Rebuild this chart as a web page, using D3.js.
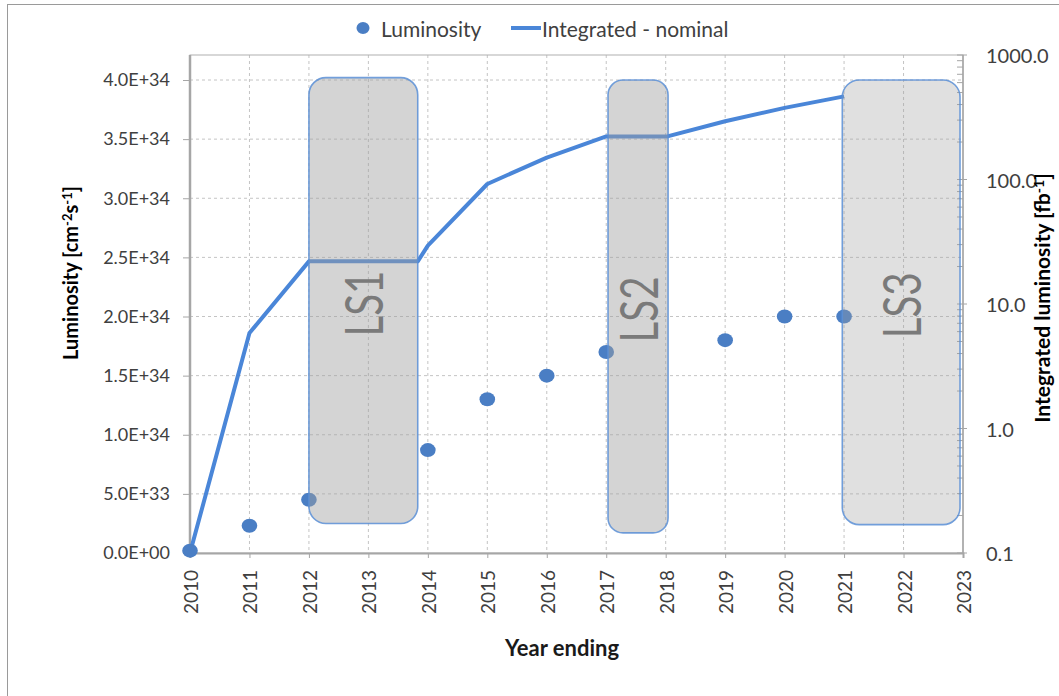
<!DOCTYPE html>
<html>
<head>
<meta charset="utf-8">
<script src="https://cdn.jsdelivr.net/npm/d3@7"></script>
<style>
  html, body { margin: 0; padding: 0; background: #fff; }
  svg { display: block; font-family: Lato, "Open Sans", sans-serif; }
</style>
</head>
<body>
<div id="chart"></div>
<script>
// ── Data ─────────────────────────────────────────────────────────
const lumiYears = [2010, 2011, 2012, 2014, 2015, 2016, 2017, 2019, 2020, 2021];
const lumiValues = [2e32, 2.3e33, 4.5e33, 8.7e33, 1.3e34, 1.5e34, 1.7e34, 1.8e34, 2.0e34, 2.0e34];

const intYears = [2010, 2011, 2012, 2013.83, 2014, 2015, 2016, 2017, 2018.03, 2019, 2020, 2021];
const intValues = [0.1, 5.85, 22, 22, 29.4, 92, 150, 222, 222, 294, 376, 465];

const shutdownNames = ['LS1', 'LS2', 'LS3'];
const shutdownStart = [2012, 2017.03, 2020.97];
const shutdownEnd = [2013.83, 2018.04, 2022.95];
const shutdownTop = [4.02e34, 4.0e34, 4.0e34];
const shutdownBottom = [0.25e34, 0.17e34, 0.24e34];
const shutdownOpacity = [0.45, 0.45, 0.33];

const yearTicks = d3.range(2010, 2024);
const lumiTicks = d3.range(0, 9).map(i => i * 0.5e34);
const intTicks = [0.1, 1, 10, 100, 1000];

// ── Layout ───────────────────────────────────────────────────────
const W = 1059, H = 696;
const blue = '#4a86d8';
const dotBlue = '#4a7ec4';
const tickColor = '#404040';

const svg = d3.select('#chart').append('svg')
  .attr('width', W)
  .attr('height', H);

// outer chart border
svg.append('rect')
  .attr('x', 7.5).attr('y', 4.5)
  .attr('width', W + 20).attr('height', H + 20)
  .attr('fill', 'none')
  .attr('stroke', '#9a9a9a');

const x = d3.scaleLinear().domain([2010, 2023]).range([190, 963]);
const yL = d3.scaleLinear().domain([0, 4e34]).range([553, 80]);
const yR = d3.scaleLog().domain([0.1, 1000]).range([553, 55]);

const plotTop = yR(1000), plotBottom = yR(0.1), plotLeft = x(2010), plotRight = x(2023);

// ── Grid ─────────────────────────────────────────────────────────
const grid = svg.append('g');
grid.selectAll('.hgrid')
  .data(lumiTicks.slice(1))
  .enter().append('line')
  .attr('x1', plotLeft).attr('x2', plotRight)
  .attr('y1', d => yL(d)).attr('y2', d => yL(d))
  .attr('stroke', '#c4c4c4')
  .attr('stroke-dasharray', '3,3');

grid.selectAll('.vgrid')
  .data(yearTicks.slice(1, -1))
  .enter().append('line')
  .attr('x1', d => x(d)).attr('x2', d => x(d))
  .attr('y1', plotTop).attr('y2', plotBottom)
  .attr('stroke', '#c4c4c4')
  .attr('stroke-dasharray', '3,3');

// frame
svg.append('rect')
  .attr('x', plotLeft).attr('y', plotTop)
  .attr('width', plotRight - plotLeft).attr('height', plotBottom - plotTop)
  .attr('fill', 'none')
  .attr('stroke', '#b0b0b0');

// ── Axes ─────────────────────────────────────────────────────────
function sciFmt(v) {
  if (v === 0) return '0.0E+00';
  const [m, e] = v.toExponential(1).split('e');
  const ev = Math.abs(+e);
  return m + 'E' + (+e < 0 ? '-' : '+') + String(ev).padStart(2, '0');
}

const leftAxis = svg.append('g')
  .attr('transform', `translate(${plotLeft},0)`)
  .call(d3.axisLeft(yL).tickValues(lumiTicks).tickFormat(sciFmt).tickSize(7).tickPadding(13));
leftAxis.select('.domain').attr('stroke', '#a6a6a6').attr('stroke-width', 2.5)
  .attr('d', `M0,${plotTop}V${plotBottom}`);
leftAxis.selectAll('.tick line').attr('stroke', '#a6a6a6');
leftAxis.selectAll('.tick text')
  .attr('fill', tickColor)
  .attr('font-size', 18)
  .attr('font-family', 'Lato, sans-serif');

const bottomAxis = svg.append('g')
  .attr('transform', `translate(0,${plotBottom})`)
  .call(d3.axisBottom(x).tickValues(yearTicks).tickFormat(d3.format('d')).tickSize(5));
bottomAxis.select('.domain').attr('stroke', '#a6a6a6').attr('stroke-width', 2);
bottomAxis.selectAll('.tick line').attr('stroke', '#a6a6a6');
bottomAxis.selectAll('.tick text')
  .attr('fill', tickColor)
  .attr('font-size', 19)
  .attr('font-family', 'Lato, sans-serif')
  .attr('transform', 'rotate(-90)')
  .attr('text-anchor', 'end')
  .attr('dominant-baseline', 'central')
  .attr('x', -17).attr('y', 0).attr('dy', null);

// right log axis with minor ticks pointing inward
const minorTicks = [];
[0.1, 1, 10, 100].forEach(dec => {
  for (let k = 2; k <= 9; k++) minorTicks.push(dec * k);
});
const rightAxis = svg.append('g').attr('transform', `translate(${plotRight},0)`);
rightAxis.append('line')
  .attr('y1', plotTop).attr('y2', plotBottom)
  .attr('stroke', '#a6a6a6').attr('stroke-width', 1.5);
rightAxis.selectAll('.minor')
  .data(minorTicks)
  .enter().append('line')
  .attr('x1', -6).attr('x2', 0)
  .attr('y1', d => yR(d)).attr('y2', d => yR(d))
  .attr('stroke', '#a6a6a6');
rightAxis.selectAll('.major')
  .data(intTicks)
  .enter().append('line')
  .attr('x1', -6).attr('x2', 4)
  .attr('y1', d => yR(d)).attr('y2', d => yR(d))
  .attr('stroke', '#a6a6a6');
rightAxis.selectAll('.rlabel')
  .data(intTicks)
  .enter().append('text')
  .attr('x', 23)
  .attr('y', d => yR(d))
  .attr('dominant-baseline', 'central')
  .attr('fill', tickColor)
  .attr('font-size', 20)
  .text(d => d3.format('.1f')(d));

// ── Series ───────────────────────────────────────────────────────
const intData = intYears.map((yr, i) => ({ yr, v: intValues[i] }));
svg.append('path')
  .datum(intData)
  .attr('fill', 'none')
  .attr('stroke', blue)
  .attr('stroke-width', 4)
  .attr('stroke-linejoin', 'round')
  .attr('d', d3.line().x(d => x(d.yr)).y(d => yR(d.v)));

svg.selectAll('.dot')
  .data(lumiYears.map((yr, i) => ({ yr, v: lumiValues[i] })))
  .enter().append('ellipse')
  .attr('cx', d => x(d.yr))
  .attr('cy', d => yL(d.v))
  .attr('rx', 7.8).attr('ry', 7)
  .attr('fill', dotBlue);

// ── Long shutdown boxes ──────────────────────────────────────────
const boxes = shutdownNames.map((name, i) => ({
  name, x0: shutdownStart[i], x1: shutdownEnd[i],
  y0: shutdownTop[i], y1: shutdownBottom[i], op: shutdownOpacity[i]
}));
const bg = svg.selectAll('.ls').data(boxes).enter().append('g');
bg.append('rect')
  .attr('x', d => x(d.x0))
  .attr('y', d => yL(d.y0))
  .attr('width', d => x(d.x1) - x(d.x0))
  .attr('height', d => yL(d.y1) - yL(d.y0))
  .attr('rx', d => Math.min(17, (x(d.x1) - x(d.x0)) / 4))
  .attr('fill', '#a0a0a0')
  .attr('fill-opacity', d => d.op)
  .attr('stroke', '#5b8fd6')
  .attr('stroke-opacity', 0.85)
  .attr('stroke-width', 1.6);
bg.append('text')
  .attr('transform', d => `translate(${(x(d.x0) + x(d.x1)) / 2},${(yL(d.y0) + yL(d.y1)) / 2 + 3}) rotate(-90)`)
  .attr('text-anchor', 'middle')
  .attr('dominant-baseline', 'central')
  .attr('fill', '#7a7a7a')
  .attr('font-size', 52)
  .attr('textLength', 66)
  .attr('lengthAdjust', 'spacingAndGlyphs')
  .text(d => d.name);

// ── Titles ───────────────────────────────────────────────────────
const lt = svg.append('text')
  .attr('transform', `translate(78,273) rotate(-90)`)
  .attr('text-anchor', 'middle')
  .attr('font-size', 20)
  .attr('font-weight', 'bold')
  .attr('fill', '#000');
lt.append('tspan').text('Luminosity [cm');
lt.append('tspan').attr('font-size', 13).attr('baseline-shift', '45%').text('-2');
lt.append('tspan').text('s');
lt.append('tspan').attr('font-size', 13).attr('baseline-shift', '45%').text('-1');
lt.append('tspan').text(']');

const rt = svg.append('text')
  .attr('transform', `translate(1050,298) rotate(-90)`)
  .attr('text-anchor', 'middle')
  .attr('font-size', 21)
  .attr('font-weight', 'bold')
  .attr('fill', '#000');
rt.append('tspan').text('Integrated luminosity [fb');
rt.append('tspan').attr('font-size', 14).attr('baseline-shift', '45%').text('-1');
rt.append('tspan').text(']');

svg.append('text')
  .attr('x', 562).attr('y', 656)
  .attr('text-anchor', 'middle')
  .attr('font-size', 22)
  .attr('font-weight', 'bold')
  .attr('fill', '#1a1a1a')
  .text('Year ending');

// ── Legend ───────────────────────────────────────────────────────
const lg = svg.append('g');
lg.append('ellipse').attr('cx', 363).attr('cy', 28).attr('rx', 6.5).attr('ry', 6).attr('fill', dotBlue);
lg.append('text').attr('x', 381).attr('y', 28).attr('dominant-baseline', 'central')
  .attr('font-size', 21).attr('fill', '#404040').text('Luminosity');
lg.append('line').attr('x1', 511).attr('x2', 541).attr('y1', 28).attr('y2', 28)
  .attr('stroke', blue).attr('stroke-width', 4);
lg.append('text').attr('x', 542).attr('y', 28).attr('dominant-baseline', 'central')
  .attr('font-size', 21).attr('fill', '#404040').text('Integrated - nominal');
</script>
</body>
</html>
